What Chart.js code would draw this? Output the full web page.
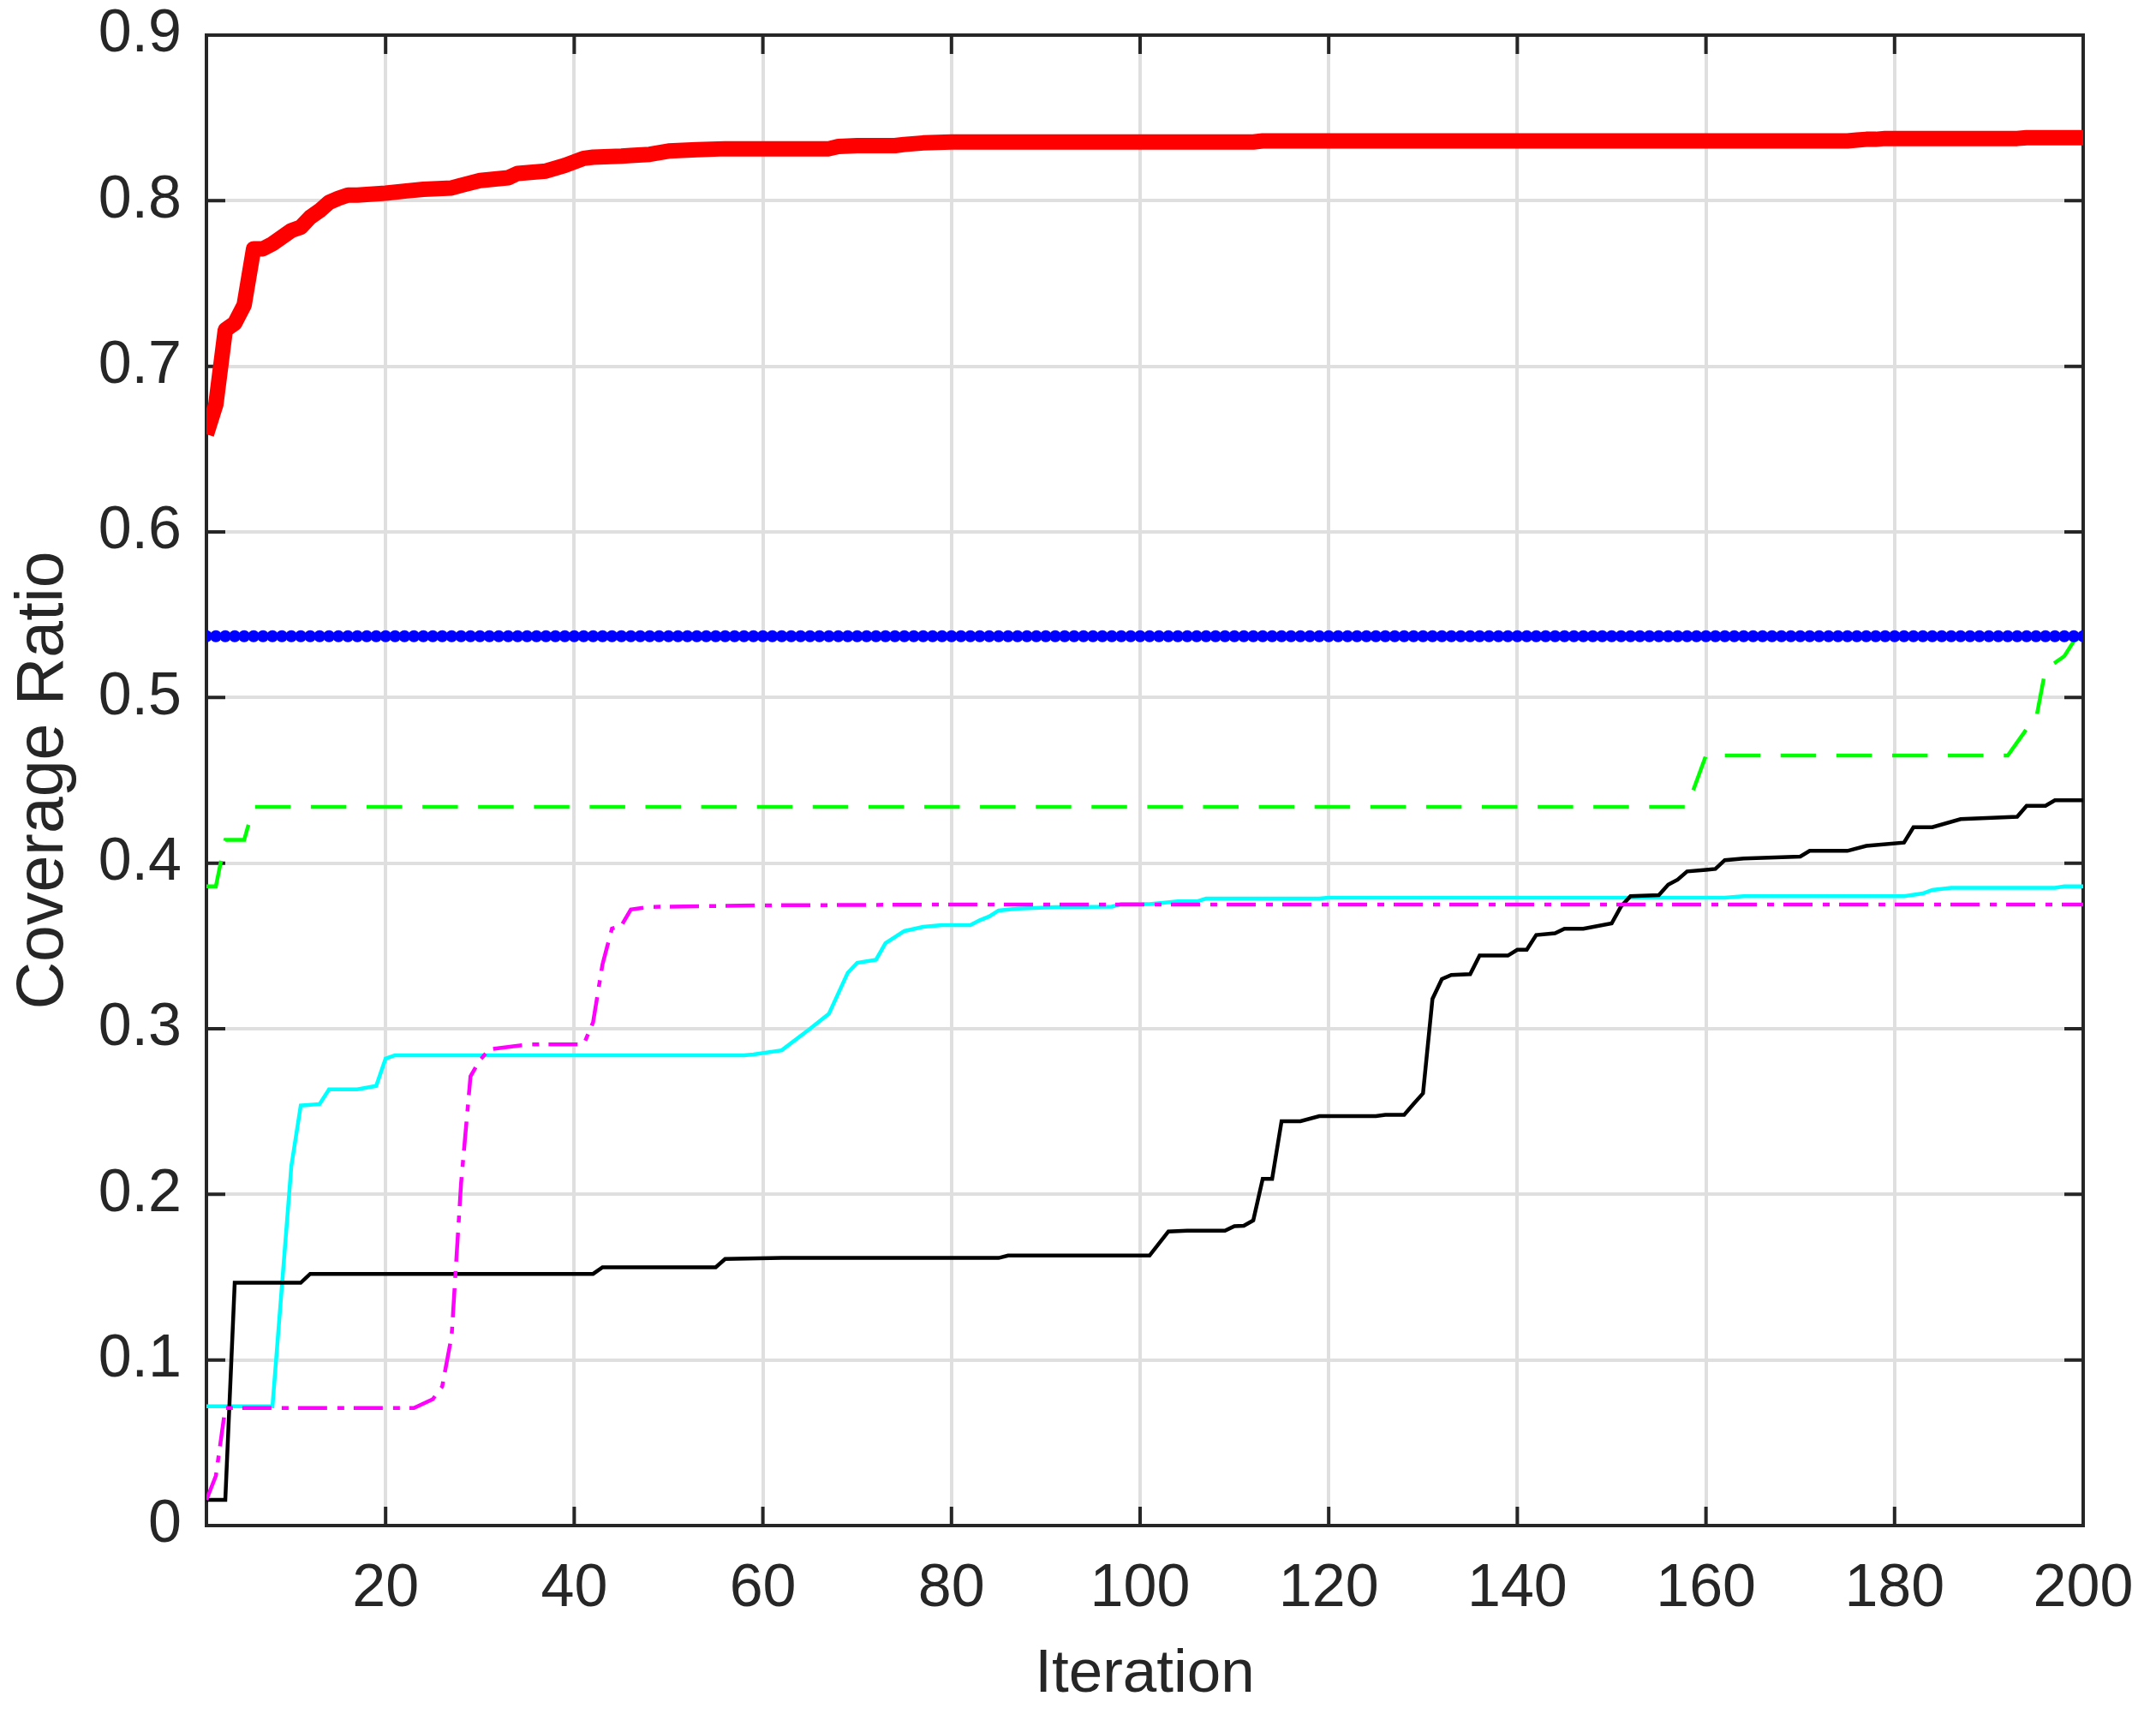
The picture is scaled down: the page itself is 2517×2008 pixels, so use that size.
<!DOCTYPE html>
<html lang="en">
<head>
    <meta charset="UTF-8">
    <title>Coverage Ratio vs Iteration</title>
    <script src="https://cdn.jsdelivr.net/npm/chart.js"></script>
    <style>
        html, body { margin: 0; padding: 0; background: #ffffff; overflow: hidden; }
        canvas { display: block; }
    </style>
</head>
<body>
    <canvas id="coverageChart" width="2517" height="2008"></canvas>

    <script>
        // axis ticks
        const xTicks = [20, 40, 60, 80, 100, 120, 140, 160, 180, 200];
        const yTicks = [0, 0.1, 0.2, 0.3, 0.4, 0.5, 0.6, 0.7, 0.8, 0.9];

        // iteration index (1..200) used by the marker series
        const iterations = Array.from({ length: 200 }, (_, i) => i + 1);

        // red thick line (breakpoints)
        const redIter = [1, 2, 3, 4, 5, 6, 7, 8, 9, 10, 11, 12, 13, 14, 15, 16, 17, 20, 22, 24, 27, 28, 30, 33, 34, 37, 39, 41, 42, 45,
            46, 48, 50, 53, 56, 67, 68, 70, 74, 75, 77, 80, 112, 113, 175, 176, 177, 178, 179, 193, 194, 200];
        const redCov = [0.659, 0.677, 0.722, 0.726, 0.737, 0.771, 0.771, 0.774, 0.778, 0.782, 0.784, 0.790, 0.794, 0.799, 0.8015, 0.8034, 0.8034,
            0.8046, 0.8058, 0.8069, 0.8077, 0.8093, 0.8122, 0.8139, 0.8165, 0.8179, 0.8213, 0.8256, 0.8263, 0.8269, 0.8273, 0.828, 0.830,
            0.8308, 0.8314, 0.8314, 0.8328, 0.8333, 0.8333, 0.834, 0.8349, 0.8355, 0.8355, 0.8361, 0.8361, 0.8366, 0.8371, 0.8371, 0.8376,
            0.8376, 0.8381, 0.8381];

        // blue dotted line with a marker at every iteration
        const blueCov = [
            0.537, 0.537, 0.537, 0.537, 0.537, 0.537, 0.537, 0.537, 0.537, 0.537, 0.537, 0.537, 0.537, 0.537, 0.537, 0.537, 0.537, 0.537, 0.537, 0.537,
            0.537, 0.537, 0.537, 0.537, 0.537, 0.537, 0.537, 0.537, 0.537, 0.537, 0.537, 0.537, 0.537, 0.537, 0.537, 0.537, 0.537, 0.537, 0.537, 0.537,
            0.537, 0.537, 0.537, 0.537, 0.537, 0.537, 0.537, 0.537, 0.537, 0.537, 0.537, 0.537, 0.537, 0.537, 0.537, 0.537, 0.537, 0.537, 0.537, 0.537,
            0.537, 0.537, 0.537, 0.537, 0.537, 0.537, 0.537, 0.537, 0.537, 0.537, 0.537, 0.537, 0.537, 0.537, 0.537, 0.537, 0.537, 0.537, 0.537, 0.537,
            0.537, 0.537, 0.537, 0.537, 0.537, 0.537, 0.537, 0.537, 0.537, 0.537, 0.537, 0.537, 0.537, 0.537, 0.537, 0.537, 0.537, 0.537, 0.537, 0.537,
            0.537, 0.537, 0.537, 0.537, 0.537, 0.537, 0.537, 0.537, 0.537, 0.537, 0.537, 0.537, 0.537, 0.537, 0.537, 0.537, 0.537, 0.537, 0.537, 0.537,
            0.537, 0.537, 0.537, 0.537, 0.537, 0.537, 0.537, 0.537, 0.537, 0.537, 0.537, 0.537, 0.537, 0.537, 0.537, 0.537, 0.537, 0.537, 0.537, 0.537,
            0.537, 0.537, 0.537, 0.537, 0.537, 0.537, 0.537, 0.537, 0.537, 0.537, 0.537, 0.537, 0.537, 0.537, 0.537, 0.537, 0.537, 0.537, 0.537, 0.537,
            0.537, 0.537, 0.537, 0.537, 0.537, 0.537, 0.537, 0.537, 0.537, 0.537, 0.537, 0.537, 0.537, 0.537, 0.537, 0.537, 0.537, 0.537, 0.537, 0.537,
            0.537, 0.537, 0.537, 0.537, 0.537, 0.537, 0.537, 0.537, 0.537, 0.537, 0.537, 0.537, 0.537, 0.537, 0.537, 0.537, 0.537, 0.537, 0.537, 0.537
        ];

        // green dashed line
        const greenIter = [1, 2, 3, 5, 6, 158, 160, 192, 194, 195, 196, 198, 199, 200];
        const greenCov = [0.386, 0.386, 0.414, 0.414, 0.434, 0.434, 0.465, 0.465, 0.481, 0.487, 0.517, 0.525, 0.534, 0.537];

        // black solid line
        const blackIter = [1, 3, 4, 11, 12, 42, 43, 55, 56, 62, 85, 86, 101, 103, 105, 109, 110, 111, 112, 113, 114, 115, 117, 119, 125,
            126, 128, 129, 130, 131, 132, 133, 135, 136, 139, 140, 141, 142, 144, 145, 147, 150, 151, 152, 155, 156, 157, 158, 160, 161,
            162, 164, 170, 171, 175, 177, 181, 182, 184, 187, 193, 194, 196, 197, 200];
        const blackCov = [0.0155, 0.0155, 0.1466, 0.1466, 0.152, 0.152, 0.156, 0.156, 0.161, 0.1616, 0.1616, 0.163, 0.163, 0.1776, 0.178,
            0.178, 0.1808, 0.181, 0.1843, 0.2093, 0.2093, 0.2442, 0.2442, 0.2472, 0.2472, 0.248, 0.248, 0.2546, 0.261, 0.318,
            0.330, 0.3325, 0.333, 0.3442, 0.3442, 0.3477, 0.3477, 0.3566, 0.3577, 0.3604, 0.3604, 0.3636, 0.3739, 0.3801, 0.3807,
            0.387, 0.390, 0.395, 0.396, 0.3965, 0.4018, 0.4028, 0.404, 0.4074, 0.4074, 0.4104, 0.4124, 0.4217, 0.4217, 0.4266,
            0.428, 0.4346, 0.4346, 0.438, 0.438];

        // cyan solid line
        const cyanIter = [1, 8, 10, 11, 13, 14, 17, 19, 20, 21, 58, 59, 62, 65, 67, 69, 70, 72, 73, 75, 77, 79, 82, 83, 84, 85, 87, 91,
            97, 98, 101, 104, 106, 107, 119, 120, 162, 164, 181, 183, 184, 186, 197, 198, 200];
        const cyanCov = [0.072, 0.072, 0.217, 0.2536, 0.2545, 0.2634, 0.2634, 0.2655, 0.282, 0.284, 0.284, 0.2845, 0.287, 0.300, 0.309,
            0.3338, 0.3398, 0.3417, 0.3517, 0.359, 0.3615, 0.3626, 0.3626, 0.3655, 0.3678, 0.3714, 0.3726, 0.3734, 0.3737, 0.3752,
            0.3752, 0.3769, 0.3769, 0.3786, 0.3786, 0.3791, 0.3791, 0.380, 0.380, 0.3817, 0.3838, 0.3851, 0.3851, 0.386, 0.386];

        // magenta dash-dot line
        const magentaIter = [1, 2, 3, 23, 25, 26, 27, 28, 29, 30, 31, 33, 35, 41, 42, 43, 44, 45, 46, 48, 60, 80, 200];
        const magentaCov = [0.0155, 0.030, 0.071, 0.071, 0.0763, 0.084, 0.1145, 0.2067, 0.2713, 0.281, 0.2875, 0.289, 0.2905, 0.2905,
            0.304, 0.339, 0.3605, 0.3623, 0.372, 0.3736, 0.3745, 0.375, 0.375];

        const axisColor = '#262626';
        const fontFamily = "'Liberation Sans', Arial, Helvetica, sans-serif";

        const pts = (xs, ys) => xs.map((x, i) => ({ x: x, y: ys[i] }));

        // box around the plot with inward tick marks on all four sides
        const boxPlugin = {
            id: 'boxPlugin',
            beforeDatasetsDraw(chart) {
                const { ctx, chartArea: a } = chart;
                const xs = chart.scales.x;
                const ys = chart.scales.y;
                const len = 22;
                ctx.save();
                ctx.strokeStyle = axisColor;
                ctx.lineWidth = 4;
                ctx.beginPath();
                xTicks.forEach(v => {
                    const px = xs.getPixelForValue(v);
                    ctx.moveTo(px, a.bottom); ctx.lineTo(px, a.bottom - len);
                    ctx.moveTo(px, a.top); ctx.lineTo(px, a.top + len);
                });
                yTicks.forEach(v => {
                    const py = ys.getPixelForValue(v);
                    ctx.moveTo(a.left, py); ctx.lineTo(a.left + len, py);
                    ctx.moveTo(a.right, py); ctx.lineTo(a.right - len, py);
                });
                ctx.stroke();
                ctx.strokeRect(a.left, a.top, a.right - a.left, a.bottom - a.top);
                ctx.restore();
            }
        };

        new Chart(document.getElementById('coverageChart').getContext('2d'), {
            type: 'line',
            data: {
                datasets: [
                    {
                        label: 'red',
                        data: pts(redIter, redCov),
                        borderColor: '#ff0000',
                        borderWidth: 18,
                        borderJoinStyle: 'round',
                        pointRadius: 0,
                        order: 0
                    },
                    {
                        label: 'blue',
                        data: pts(iterations, blueCov),
                        borderColor: '#0000ff',
                        borderWidth: 4,
                        borderDash: [4, 7],
                        pointRadius: 7,
                        pointBorderWidth: 0,
                        pointBackgroundColor: '#0000ff',
                        order: 1
                    },
                    {
                        label: 'green',
                        data: pts(greenIter, greenCov),
                        borderColor: '#00ff00',
                        borderWidth: 4.5,
                        borderDash: [41.5, 23.6],
                        pointRadius: 0,
                        order: 2
                    },
                    {
                        label: 'magenta',
                        data: pts(magentaIter, magentaCov),
                        borderColor: '#ff00ff',
                        borderWidth: 4.5,
                        borderDash: [34, 12, 8, 11],
                        pointRadius: 0,
                        order: 3
                    },
                    {
                        label: 'black',
                        data: pts(blackIter, blackCov),
                        borderColor: '#000000',
                        borderWidth: 4.5,
                        pointRadius: 0,
                        order: 4
                    },
                    {
                        label: 'cyan',
                        data: pts(cyanIter, cyanCov),
                        borderColor: '#00ffff',
                        borderWidth: 4.5,
                        pointRadius: 0,
                        order: 5
                    }
                ]
            },
            options: {
                responsive: false,
                animation: false,
                devicePixelRatio: 1,
                events: [],
                layout: { padding: { top: 41, right: 85, bottom: 0, left: 0 } },
                plugins: {
                    legend: { display: false },
                    tooltip: { enabled: false }
                },
                elements: { line: { tension: 0 } },
                scales: {
                    x: {
                        type: 'linear',
                        min: 1,
                        max: 200,
                        afterBuildTicks: scale => { scale.ticks = xTicks.map(v => ({ value: v })); },
                        afterFit: scale => {
                            scale.height = 227;
                            scale.paddingLeft = 0;
                            scale.paddingRight = 0;
                        },
                        border: { display: false },
                        grid: { color: '#dfdfdf', lineWidth: 4, drawTicks: false },
                        ticks: {
                            color: axisColor,
                            padding: 40,
                            maxRotation: 0,
                            autoSkip: false,
                            font: { family: fontFamily, size: 70, lineHeight: 1 },
                            callback: v => String(v)
                        },
                        title: {
                            display: true,
                            text: 'Iteration',
                            color: axisColor,
                            font: { family: fontFamily, size: 71, lineHeight: 1 },
                            padding: { top: 0, bottom: 17 }
                        }
                    },
                    y: {
                        type: 'linear',
                        min: 0,
                        max: 0.9,
                        afterBuildTicks: scale => { scale.ticks = yTicks.map(v => ({ value: v })); },
                        afterFit: scale => {
                            scale.width = 241;
                            scale.paddingTop = 0;
                            scale.paddingBottom = 0;
                        },
                        border: { display: false },
                        grid: { color: '#dfdfdf', lineWidth: 4, drawTicks: false },
                        ticks: {
                            color: axisColor,
                            padding: 29,
                            font: { family: fontFamily, size: 70, lineHeight: 1 },
                            callback: v => String(v)
                        },
                        title: {
                            display: true,
                            text: 'Coverage Ratio',
                            color: axisColor,
                            font: { family: fontFamily, size: 77, lineHeight: 1 },
                            padding: { top: 13, bottom: 0 }
                        }
                    }
                }
            },
            plugins: [boxPlugin]
        });
    </script>
</body>
</html>
